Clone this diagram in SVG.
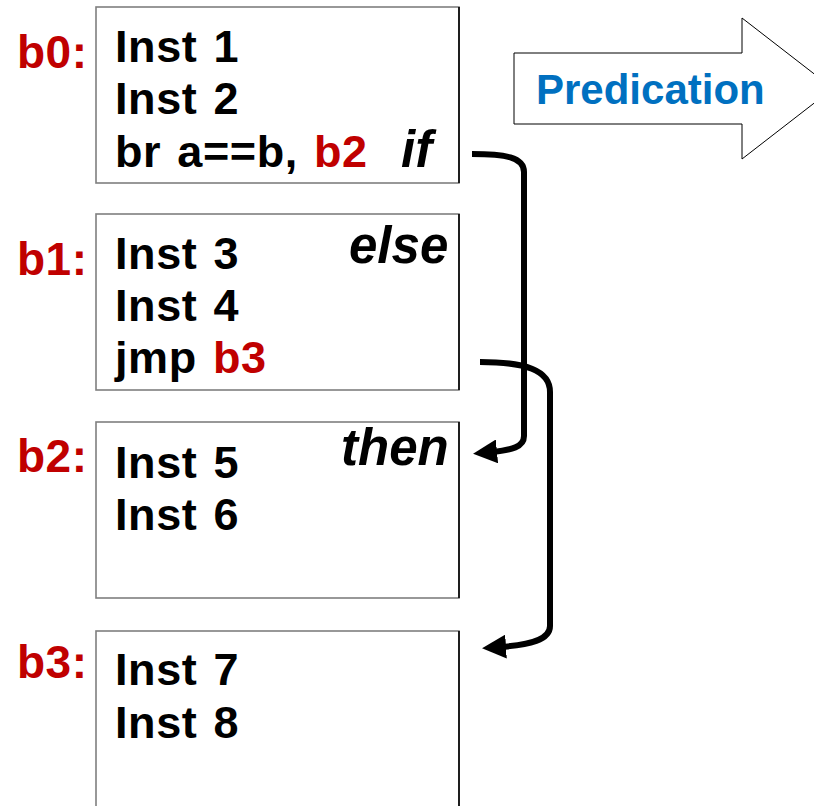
<svg xmlns="http://www.w3.org/2000/svg" width="814" height="806" viewBox="0 0 814 806">
<style>
.box{fill:#fff;stroke:#7f7f7f;stroke-width:1.6}
.edge{stroke:#000;stroke-width:1.6}
.t{font-family:"Liberation Sans",Arial,sans-serif;font-weight:bold;font-size:45px;letter-spacing:0.6px;word-spacing:3px;fill:#000}
.lbl{font-family:"Liberation Sans",Arial,sans-serif;font-weight:bold;font-size:46px;letter-spacing:0.5px;fill:#c00000}
.red{fill:#c00000}
.it{font-family:"Liberation Sans",Arial,sans-serif;font-weight:bold;font-style:italic;font-size:51px;fill:#000}
.pred{font-family:"Liberation Sans",Arial,sans-serif;font-weight:bold;font-size:42px;fill:#0070c0}
.conn{fill:none;stroke:#000;stroke-width:6}
</style>
<defs>
<marker id="ah" markerUnits="userSpaceOnUse" viewBox="0 0 24 24" markerWidth="24" markerHeight="24" refX="6" refY="12" orient="auto">
<path d="M0,0 L24,12 L0,24 z" fill="#000"/>
</marker>
</defs>
<rect width="814" height="806" fill="#fff"/>
<g id="predication">
<path d="M514,53 L742,53 L742,18 L833,88.5 L742,159 L742,124 L514,124 Z" fill="#fff" stroke="#000" stroke-width="1"/>
<text class="pred" x="536" y="104">Predication</text>
</g>
<g id="b0">
<rect class="box" x="96" y="7" width="363" height="176"/>
<line class="edge" x1="459" y1="7" x2="459" y2="183"/>
<text class="lbl" x="17" y="68">b0:</text>
<text class="t" x="115" y="62">Inst 1</text>
<text class="t" x="115" y="114">Inst 2</text>
<text class="t" x="115" y="167">br a==b, <tspan class="red">b2</tspan></text>
<text class="it" x="401" y="167" font-size="56">if</text>
</g>
<g id="b1">
<rect class="box" x="96" y="214" width="363" height="176"/>
<line class="edge" x1="459" y1="214" x2="459" y2="390"/>
<text class="lbl" x="17" y="275">b1:</text>
<text class="t" x="115" y="269">Inst 3</text>
<text class="t" x="115" y="321">Inst 4</text>
<text class="t" x="115" y="373">jmp <tspan class="red">b3</tspan></text>
<text class="it" x="349" y="263" font-size="52">else</text>
</g>
<g id="b2">
<rect class="box" x="96" y="422" width="363" height="176"/>
<line class="edge" x1="459" y1="422" x2="459" y2="598"/>
<text class="lbl" x="17" y="472">b2:</text>
<text class="t" x="115" y="478">Inst 5</text>
<text class="t" x="115" y="530">Inst 6</text>
<text class="it" x="341" y="465">then</text>
</g>
<g id="b3">
<rect class="box" x="96" y="631" width="363" height="200"/>
<line class="edge" x1="459" y1="631" x2="459" y2="831"/>
<text class="lbl" x="17" y="678">b3:</text>
<text class="t" x="115" y="685">Inst 7</text>
<text class="t" x="115" y="738">Inst 8</text>
</g>
<g id="connectors">
<path class="conn" d="M472,154 C505,154 524,157 524,172 L524,436 C524,447 512,450 491,452" marker-end="url(#ah)"/>
<path class="conn" d="M480,362 C525,362 550,370 550,392 L550,626 C550,640 530,645 500,647" marker-end="url(#ah)"/>
</g>
</svg>
